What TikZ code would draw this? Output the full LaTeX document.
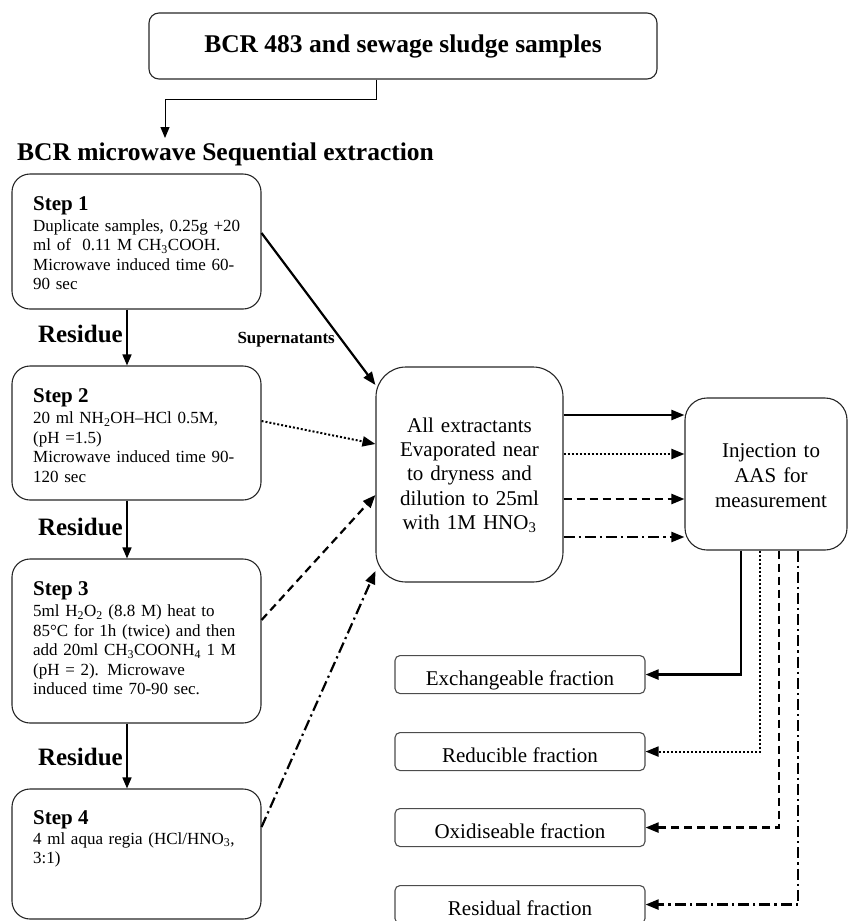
\documentclass[tikz,border=0pt]{standalone}
\usepackage{fontspec}
\setmainfont{Liberation Serif}
\usetikzlibrary{arrows.meta,calc}
\begin{document}
\begin{tikzpicture}[x=1pt,y=-1pt,
  box/.style={draw=black!85, line width=1.1pt, rounded corners=#1, inner sep=0pt},
  box/.default=16pt,
  tip/.style={-{Triangle[length=13pt,width=10pt]}},
  smalltip/.style={-{Triangle[length=11pt,width=9pt]}},
  thinline/.style={line width=1pt},
  thickline/.style={line width=2.2pt},
  dotline/.style={line width=2pt, dash pattern=on 2pt off 2pt},
  dashline/.style={line width=2.2pt, dash pattern=on 8pt off 5pt},
  dashdotline/.style={line width=2.2pt, dash pattern=on 11pt off 4pt on 2.2pt off 4pt},
  body/.style={font=\fontsize{17}{19.6}\selectfont, text width=235pt, align=left, inner sep=0pt, anchor=base west},
  head/.style={font=\fontsize{21}{24}\selectfont\bfseries, inner sep=0pt, anchor=base west},
  reslabel/.style={font=\fontsize{25}{28}\selectfont\bfseries, inner sep=0pt, anchor=base east},
  frac/.style={box=5pt, draw=black!70, minimum width=250pt, text height=29.5pt, text depth=8.5pt, font=\fontsize{21}{24}\selectfont, anchor=north},
]
\useasboundingbox (0,0) rectangle (849,921);

% top box and title
\node[box=10pt, minimum width=508pt, minimum height=66pt, font=\fontsize{25.5}{28}\selectfont\bfseries] (top) at (403,46) {BCR 483 and sewage sludge samples};
\node[font=\fontsize{25.5}{28}\selectfont\bfseries, inner sep=0pt, anchor=base west] (title) at (17,160) {BCR microwave Sequential extraction};
\coordinate (tgt) at (165,138);
\draw[thinline, smalltip] ([xshift=-27pt]top.south) -- ++(0,20) -| (tgt);

% step boxes
\node[box=18pt, minimum width=249pt, minimum height=135pt] (s1) at (136.5,241.5) {};
\node[box=18pt, minimum width=249pt, minimum height=134pt] (s2) at (136.5,433) {};
\node[box=18pt, minimum width=249pt, minimum height=164pt] (s3) at (136.5,641) {};
\node[box=18pt, minimum width=249pt, minimum height=130pt] (s4) at (136.5,854) {};

\node[head] (s1h) at (33,210) {Step 1};
\node[body] (s1b) at (33,231) {Duplicate samples, 0.25g +20\\ml of \ 0.11 M CH\textsubscript{3}COOH.\\Microwave induced time 60-\\90 sec};
\node[head] (s2h) at (33,402) {Step 2};
\node[body] (s2b) at (33,423.5) {20 ml NH\textsubscript{2}OH–HCl 0.5M,\\(pH =1.5)\\Microwave induced time 90-\\120 sec};
\node[head] (s3h) at (33,595) {Step 3};
\node[body] (s3b) at (33,616.5) {5ml H\textsubscript{2}O\textsubscript{2} (8.8 M) heat to\\85°C for 1h (twice) and then\\add 20ml CH\textsubscript{3}COONH\textsubscript{4} 1 M\\(pH = 2). Microwave\\induced time 70-90 sec.};
\node[head] (s4h) at (33,824) {Step 4};
\node[body] (s4b) at (33,844) {\makebox[204pt][s]{4 ml aqua regia (HCl/HNO\textsubscript{3},}\\3:1)};

% residue arrows
\node[reslabel] (r1) at (123,342) {Residue};
\node[reslabel] (r2) at (123,535) {Residue};
\node[reslabel] (r3) at (123,765) {Residue};
\draw[line width=1.5pt, smalltip] ([xshift=-9.5pt]s1.south) -- ([xshift=-9.5pt]s2.north);
\draw[line width=1.5pt, smalltip] ([xshift=-9.5pt]s2.south) -- ([xshift=-9.5pt]s3.north);
\draw[line width=1.5pt, smalltip] ([xshift=-9.5pt]s3.south) -- ([xshift=-9.5pt]s4.north);

% central box
\node[box=30pt, minimum width=187pt, minimum height=215pt] (mid) at (469.5,474.5) {};
\node[font=\fontsize{21}{24.4}\selectfont, text width=185pt, align=center, inner sep=0pt, anchor=base] (midt) at (469.5,432) {All extractants\\Evaporated near\\to dryness and\\dilution to 25ml\\with 1M HNO\textsubscript{3}};

\node[font=\fontsize{17}{20}\selectfont\bfseries, inner sep=0pt, anchor=base east] (sup) at (335,343) {Supernatants};

\draw[thickline, tip] ([yshift=8.5pt]s1.east) -- ([yshift=89.5pt]mid.west);
\draw[dotline, tip] ([yshift=12pt]s2.east) -- ([yshift=30.5pt]mid.west);
\draw[dashline, tip] ([yshift=21pt]s3.east) -- ([yshift=-20.5pt]mid.west);
\draw[dashdotline, tip] ([yshift=27pt]s4.east) -- ([yshift=-96.5pt]mid.west);

% injection box
\node[box=22pt, minimum width=162pt, minimum height=152pt] (inj) at (766,474) {};
\node[font=\fontsize{21}{25}\selectfont, text width=160pt, align=center, inner sep=0pt, anchor=base] (injt) at (771,457) {Injection to\\AAS for\\measurement};

\draw[thickline, tip] ([yshift=59.5pt]mid.east) -- ([yshift=59.5pt]mid.east -| inj.west);
\draw[dotline, tip] ([yshift=20.5pt]mid.east) -- ([yshift=20.5pt]mid.east -| inj.west);
\draw[dashline, tip] ([yshift=-24.5pt]mid.east) -- ([yshift=-24.5pt]mid.east -| inj.west);
\draw[dashdotline, tip] ([yshift=-62.5pt]mid.east) -- ([yshift=-62.5pt]mid.east -| inj.west);

% fraction boxes
\node[frac] (ex) at (520,655) {Exchangeable fraction};
\node[frac] (red) at (520,732) {Reducible fraction};
\node[frac] (ox) at (520,808) {Oxidiseable fraction};
\node[frac] (res) at (520,885) {Residual fraction};

\draw[thickline, tip] ([xshift=-25pt]inj.south) |- (ex.east);
\draw[dotline, tip] ([xshift=-6pt]inj.south) |- (red.east);
\draw[dashline, tip] ([xshift=13pt]inj.south) |- (ox.east);
\draw[dashdotline, tip] ([xshift=32pt]inj.south) |- (res.east);
\end{tikzpicture}
\end{document}
